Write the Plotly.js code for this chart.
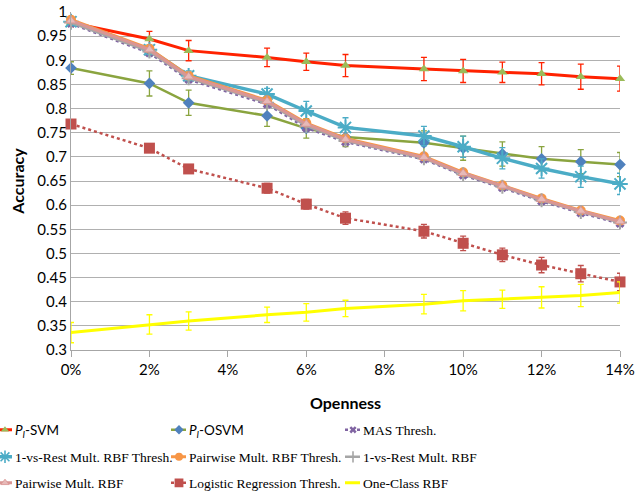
<!DOCTYPE html>
<html><head><meta charset="utf-8">
<script src="https://cdn.plot.ly/plotly-3.0.1.min.js"></script>
<style>html,body{margin:0;padding:0;background:#fff}#chart{width:635px;height:492px}</style>
</head><body><div id="chart"></div>
<script>
const openness = [0,2,3,5,6,7,9,10,11,12,13,14];
const piSvm = [0.978,0.944,0.920,0.906,0.897,0.889,0.882,0.878,0.875,0.872,0.866,0.862];
const piSvmErr = [0.008,0.016,0.021,0.019,0.018,0.023,0.024,0.024,0.021,0.023,0.026,0.026];
const piOsvm = [0.884,0.852,0.812,0.785,0.759,0.741,0.729,0.718,0.706,0.696,0.690,0.684];
const piOsvmErr = [0.013,0.026,0.026,0.022,0.02,0.02,0.025,0.025,0.025,0.025,0.025,0.025];
const mas = [0.976,0.915,0.860,0.809,0.760,0.731,0.695,0.662,0.636,0.608,0.584,0.562];
const ovrThresh = [0.980,0.922,0.868,0.830,0.795,0.761,0.743,0.721,0.697,0.676,0.659,0.644];
const ovrThreshErr = [0.008,0.01,0.01,0.012,0.02,0.02,0.02,0.022,0.022,0.02,0.022,0.022];
const pairThresh = [0.984,0.924,0.868,0.817,0.770,0.738,0.701,0.668,0.641,0.614,0.589,0.568];
const ovr = [0.978,0.918,0.863,0.812,0.764,0.733,0.697,0.664,0.638,0.610,0.586,0.564];
const pair = [0.982,0.922,0.866,0.815,0.768,0.736,0.699,0.666,0.640,0.612,0.588,0.566];
const logit = [0.768,0.718,0.675,0.635,0.602,0.573,0.546,0.521,0.497,0.476,0.458,0.441];
const logitErr = [0.008,0.008,0.008,0.01,0.01,0.013,0.014,0.015,0.014,0.016,0.017,0.018];
const oneClass = [0.336,0.353,0.360,0.373,0.378,0.386,0.395,0.402,0.405,0.409,0.413,0.419];
const oneClassErr = [0.021,0.02,0.019,0.016,0.018,0.017,0.02,0.021,0.019,0.022,0.023,0.022];
const names = ['<span style="font-family:Lato"><i>P</i><sub><i>I</i></sub>-SVM</span>',
  '<span style="font-family:Lato"><i>P</i><sub><i>I</i></sub>-OSVM</span>',
  'MAS Thresh.','1-vs-Rest Mult. RBF Thresh.','Pairwise Mult. RBF Thresh.',
  '1-vs-Rest Mult. RBF','Pairwise Mult. RBF','Logistic Regression Thresh.','One-Class RBF'];
const xTicks = [0,2,4,6,8,10,12,14];
const xTickText = ['0%','2%','4%','6%','8%','10%','12%','14%'];

function err(arr,color){return {type:'data',array:arr,visible:true,color:color,thickness:1.3,width:3};}
const traces = [
 {x:openness,y:piSvm,name:names[0],legend:'legend',mode:'lines+markers',line:{color:'#FF2200',width:3},
  marker:{symbol:'triangle-up',color:'#9BBB59',size:9},error_y:err(piSvmErr,'#FF2200')},
 {x:openness,y:piOsvm,name:names[1],legend:'legend',mode:'lines+markers',line:{color:'#8AA43F',width:2.5},
  marker:{symbol:'diamond',color:'#4F81BD',size:9},error_y:err(piOsvmErr,'#8AA43F')},
 {x:openness,y:mas,name:names[2],legend:'legend',mode:'lines+markers',line:{color:'#8064A2',width:2.5,dash:'dot'},
  marker:{symbol:'x',color:'#8064A2',size:8}},
 {x:openness,y:ovrThresh,name:names[3],legend:'legend2',mode:'lines+markers',line:{color:'#4BACC6',width:3.5},
  marker:{symbol:'asterisk-open',size:13,line:{color:'#4BACC6',width:2}},error_y:err(ovrThreshErr,'#4BACC6')},
 {x:openness,y:pairThresh,name:names[4],legend:'legend2',mode:'lines+markers',line:{color:'#F79646',width:3},
  marker:{symbol:'circle',color:'#F79646',size:10}},
 {x:openness,y:ovr,name:names[5],legend:'legend2',mode:'lines+markers',line:{color:'#A5A5A5',width:2.5},
  marker:{symbol:'cross-thin-open',size:10,line:{color:'#A5A5A5',width:2}}},
 {x:openness,y:pair,name:names[6],legend:'legend3',mode:'lines+markers',line:{color:'#D99694',width:3},
  marker:{symbol:'triangle-up',color:'#E6B9B8',size:9,line:{color:'#D99694',width:1}}},
 {x:openness,y:logit,name:names[7],legend:'legend3',mode:'lines+markers',line:{color:'#C0504D',width:2.5,dash:'dot'},
  marker:{symbol:'square',color:'#C0504D',size:11},error_y:err(logitErr,'#C0504D')},
 {x:openness,y:oneClass,name:names[8],legend:'legend3',mode:'lines',line:{color:'#FFFF00',width:3},
  error_y:err(oneClassErr,'#FFFF00')}
];
traces.forEach(t=>{t.type='scatter';t.cliponaxis=false;});

function leg(y){return {orientation:'h',x:-96/549,xanchor:'left',y:y,yanchor:'middle',
   font:{family:'Liberation Serif, serif',size:13.5,color:'#000'},
   entrywidth:129,entrywidthmode:'pixels',itemwidth:30,traceorder:'normal',bgcolor:'rgba(0,0,0,0)',borderwidth:0};}
const layout = {
 width:635,height:492,paper_bgcolor:'#fff',plot_bgcolor:'#fff',
 margin:{l:71,r:15,t:12,b:142,autoexpand:false},
 font:{family:'Lato, sans-serif',size:15,color:'#000'},
 showlegend:true,
 xaxis:{range:[0,14],tickvals:xTicks,ticktext:xTickText,showgrid:false,zeroline:false,
   showline:true,linecolor:'#A6A6A6',linewidth:1,ticks:'outside',ticklen:6,tickcolor:'#A6A6A6',
   tickfont:{size:15},title:{text:'<b>Openness</b>',font:{size:16},standoff:20}},
 yaxis:{range:[0.3,1],dtick:0.05,tick0:0.3,showgrid:true,gridcolor:'#B0B0B0',gridwidth:1,zeroline:false,
   showline:true,linecolor:'#A6A6A6',linewidth:1,ticks:'',tickfont:{size:15},
   title:{text:'<b>Accuracy</b>',font:{size:16},standoff:8}},
 legend:leg(-80/338),
 legend2:leg(-107/338),
 legend3:leg(-133/338)
};
Plotly.newPlot('chart',traces,layout,{displayModeBar:false,staticPlot:true}).then(function(){
  // shorten legend symbols so they sit just before their labels, as in the reference
  document.querySelectorAll('#chart .legendlines path').forEach(function(p){p.setAttribute('d','M22,0h15');});
  document.querySelectorAll('#chart .legendpoints path.scatterpts').forEach(function(p){p.setAttribute('transform','translate(30,0) scale(0.8)');});
});
</script></body></html>
